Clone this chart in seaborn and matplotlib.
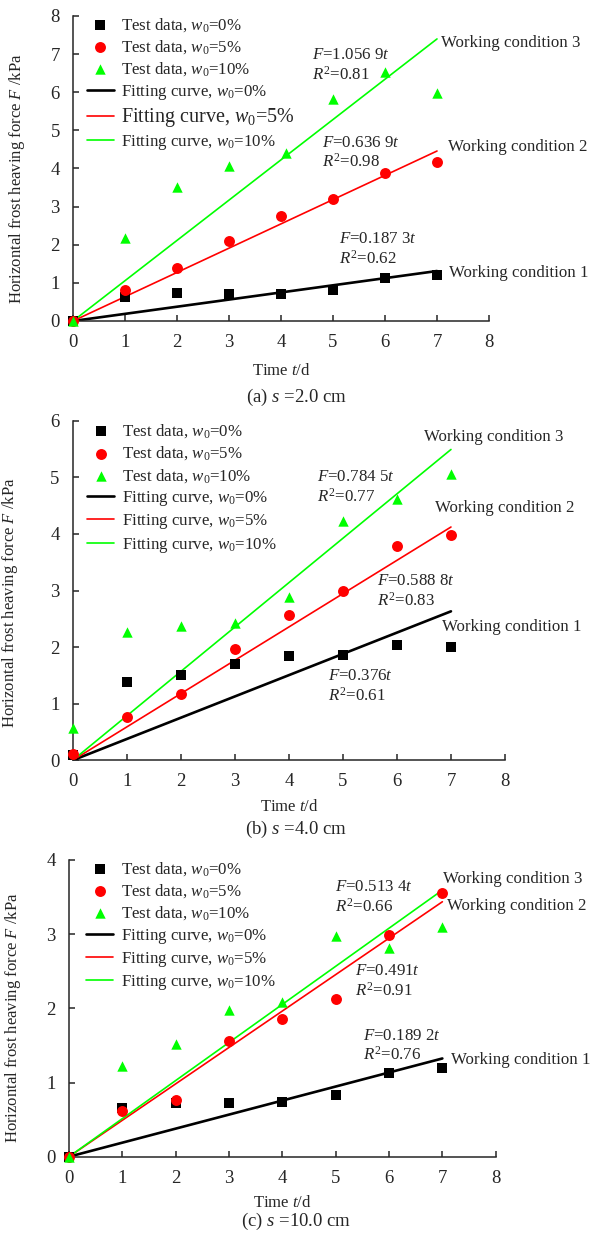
import matplotlib
matplotlib.use("Agg")
import matplotlib.pyplot as plt
import seaborn as sns

# ---------------------------------------------------------------- data
DAYS = [0, 1, 2, 3, 4, 5, 6, 7]

# (a) s = 2.0 cm
A_W0 = [0.00, 0.64, 0.73, 0.72, 0.72, 0.81, 1.14, 1.20]
A_W5 = [0.00, 0.80, 1.40, 2.09, 2.76, 3.19, 3.89, 4.17]
A_W10_DAYS = [0, 1, 2, 3, 4.1, 5, 6, 7]
A_W10 = [0.00, 2.17, 3.52, 4.07, 4.40, 5.82, 6.52, 5.97]
A_SLOPES = ["0.187 3", "0.636 9", "1.056 9"]
A_R2 = ["0.62", "0.98", "0.81"]

# (b) s = 4.0 cm
B_W0 = [0.10, 1.39, 1.51, 1.70, 1.85, 1.86, 2.04, 2.00]
B_W5 = [0.12, 0.76, 1.17, 1.97, 2.56, 3.00, 3.79, 3.98]
B_W10 = [0.57, 2.27, 2.38, 2.42, 2.89, 4.22, 4.61, 5.05]
B_SLOPES = ["0.376", "0.588 8", "0.784 5"]
B_R2 = ["0.61", "0.83", "0.77"]

# (c) s = 10.0 cm
C_W0 = [0.00, 0.65, 0.73, 0.72, 0.74, 0.83, 1.13, 1.19]
C_W5 = [0.00, 0.61, 0.77, 1.56, 1.85, 2.13, 2.99, 3.56]
C_W10 = [0.00, 1.22, 1.52, 1.98, 2.08, 2.97, 2.82, 3.09]
C_SLOPES = ["0.189 2", "0.491", "0.513 4"]
C_R2 = ["0.76", "0.91", "0.66"]

MOISTURE = ["0%", "5%", "10%"]
CAPTIONS = ["(a) $s$ =2.0 cm", "(b) $s$ =4.0 cm", "(c) $s$ =10.0 cm"]
Y_MAX = [8, 6, 4]
FIT_END = 7

# ---------------------------------------------------------------- style
sns.set_style("ticks")
plt.rcParams["font.family"] = ["Liberation Serif", "DejaVu Serif"]
plt.rcParams["mathtext.fontset"] = "custom"
plt.rcParams["mathtext.rm"] = "Liberation Serif"
plt.rcParams["mathtext.it"] = "Liberation Serif:italic"
plt.rcParams["mathtext.bf"] = "Liberation Serif:bold"
plt.rcParams["axes.linewidth"] = 1.1

COLORS = ["#000000", "#ff0000", "#00ff00"]
MARKERS = ["s", "o", "^"]
SIZES = [52, 62, 56]
FIT_LW = [1.9, 1.2, 1.2]

FS_TICK = 13.5
FS_TEXT = 12.2
FS_AXLABEL = 12.0
FS_CAPTION = 13.5

fig = plt.figure(figsize=(5.92, 12.40), dpi=100)
W, H = 592, 1240


def px_axes(left, right, top, bottom):
    return [left / W, 1 - bottom / H, (right - left) / W, (bottom - top) / H]


panels = [
    dict(rect=px_axes(73, 489, 16, 321),
         days=[DAYS, DAYS, A_W10_DAYS], values=[A_W0, A_W5, A_W10],
         slopes=A_SLOPES, r2=A_R2,
         eq_pos=[(5.12, 2.14, 1.62), (4.78, 4.66, 4.18), (4.59, 6.98, 6.46)],
         wc_pos=[(7.24, 1.27), (7.22, 4.57), (7.08, 7.29)],
         legend_anchor=(0.033, 1.0), ylab=(-0.135, 0.466),
         xlab_px=370.7, cap_px=397.0, big_entry=4),
    dict(rect=px_axes(72.7, 505, 420.7, 760.3),
         days=[DAYS, DAYS, DAYS], values=[B_W0, B_W5, B_W10],
         slopes=B_SLOPES, r2=B_R2,
         eq_pos=[(4.72, 1.49, 1.14), (5.63, 3.16, 2.82), (4.53, 5.00, 4.66)],
         wc_pos=[(6.84, 2.35), (6.70, 4.45), (6.51, 5.72)],
         legend_anchor=(0.033, 0.995), ylab=(-0.144, 0.465),
         xlab_px=806.7, cap_px=829.0, big_entry=None),
    dict(rect=px_axes(69, 495.7, 860, 1156.7),
         days=[DAYS, DAYS, DAYS], values=[C_W0, C_W5, C_W10],
         slopes=C_SLOPES, r2=C_R2,
         eq_pos=[(5.51, 1.63, 1.37), (5.37, 2.51, 2.24), (4.99, 3.63, 3.37)],
         wc_pos=[(7.17, 1.30), (7.09, 3.38), (7.02, 3.75)],
         legend_anchor=(0.04, 1.0), ylab=(-0.1305, 0.467),
         xlab_px=1203.3, cap_px=1221.7, big_entry=None),
]

for k, p in enumerate(panels):
    ax = fig.add_axes(p["rect"])
    handles = []
    # measured points
    for i in range(3):
        sns.scatterplot(x=p["days"][i], y=p["values"][i], ax=ax,
                        marker=MARKERS[i], color=COLORS[i], s=SIZES[i],
                        linewidth=0, clip_on=False, zorder=3 + i,
                        label="Test data, $w_0$=" + MOISTURE[i])
        handles.append(ax.collections[-1])
    # linear fits through the origin, F = k t
    for i in range(3):
        slope = float(p["slopes"][i].replace(" ", ""))
        sns.lineplot(x=[0, FIT_END], y=[0, slope * FIT_END], ax=ax,
                     color=COLORS[i], linewidth=FIT_LW[i], zorder=2,
                     estimator=None, label="Fitting curve, $w_0$=" + MOISTURE[i])
        handles.append(ax.lines[-1])

    # equations and condition labels
    for i in range(3):
        ex, ey, ry = p["eq_pos"][i]
        ax.text(ex, ey, "$F$=" + p["slopes"][i] + "$t$", fontsize=FS_TEXT,
                ha="left", va="center")
        ax.text(ex, ry, "$R^2$=" + p["r2"][i], fontsize=FS_TEXT,
                ha="left", va="center")
        wx, wy = p["wc_pos"][i]
        ax.text(wx, wy, f"Working condition {i + 1}", fontsize=FS_TEXT,
                ha="left", va="center", clip_on=False)

    ax.set_xlim(0, 8)
    ax.set_ylim(0, Y_MAX[k])
    ax.set_xticks(range(0, 9))
    ax.set_yticks(range(0, Y_MAX[k] + 1))
    ax.tick_params(direction="in", length=4, width=1.1, labelsize=FS_TICK,
                   pad=9.5)
    sns.despine(ax=ax)

    ax.set_ylabel("Horizontal frost heaving force $F$ /kPa", fontsize=FS_AXLABEL)
    ax.yaxis.set_label_coords(*p["ylab"])
    ax.yaxis.label.set_va("center")

    ax.set_xlabel("Time $t$/d", fontsize=FS_AXLABEL)
    bottom_px = H * (1 - p["rect"][1])
    height_px = H * p["rect"][3]
    ax.xaxis.set_label_coords(0.5, -(p["xlab_px"] - bottom_px) / height_px)
    ax.xaxis.label.set_va("center")

    leg = ax.legend(handles=handles, loc="upper left",
                    bbox_to_anchor=p["legend_anchor"], frameon=False,
                    borderpad=0, borderaxespad=0, handlelength=1.6,
                    handletextpad=0.45, labelspacing=0.26, fontsize=FS_TEXT)
    if p["big_entry"] is not None:
        leg.get_texts()[p["big_entry"]].set_fontsize(14.5)

    fig.text(0.5, 1 - p["cap_px"] / H, CAPTIONS[k], fontsize=FS_CAPTION,
             ha="center", va="center")

fig.savefig("out.png", dpi=100)
